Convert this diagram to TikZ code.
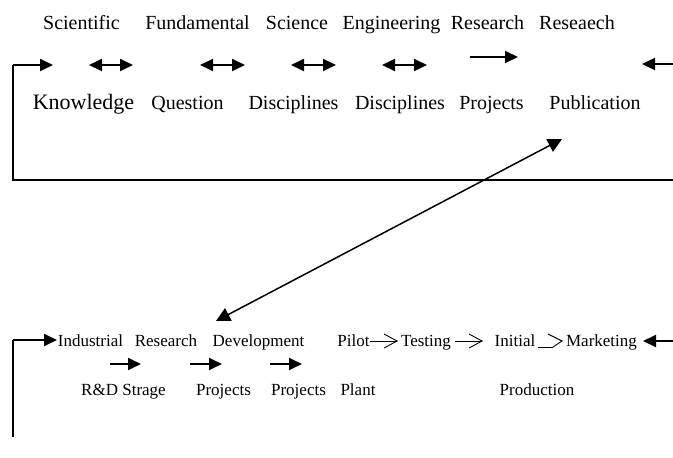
\documentclass[tikz,border=0pt]{standalone}
\usepackage{fontspec}
\setmainfont{Liberation Serif}
\usetikzlibrary{arrows.meta}
\tikzset{
  lbl/.style={anchor=base,inner sep=0pt,font=\fontsize{20}{24}\selectfont},
  biglbl/.style={anchor=base,inner sep=0pt,font=\fontsize{22}{26}\selectfont},
  smalllbl/.style={anchor=base,inner sep=0pt,font=\fontsize{17}{20}\selectfont},
  frame/.style={line width=1.5pt},
  arr/.style={line width=1.8pt,-{Triangle[length=13pt,width=12pt]}},
  dblarr/.style={line width=1.8pt,{Triangle[length=13pt,width=12pt]}-{Triangle[length=13pt,width=12pt]}},
  diag/.style={line width=1.5pt,{Triangle[length=14pt,width=14pt]}-{Triangle[length=14pt,width=14pt]}},
  chev/.style={line width=0.9pt,-{Straight Barb[length=13pt,width=14pt,line width=0.9pt]}}
}
\begin{document}
\begin{tikzpicture}[x=1pt,y=-1pt]
\useasboundingbox (0,0) rectangle (673,458);
% top labels
\node[lbl] (t1) at (81.5,29) {Scientific};
\node[lbl] (t2) at (197.5,29) {Fundamental};
\node[lbl] (t3) at (297,29) {Science};
\node[lbl] (t4) at (391.5,29) {Engineering};
\node[lbl] (t5) at (487.5,29) {Research};
\node[lbl] (t6) at (577,29) {Reseaech};
% second row labels
\node[biglbl] (k1) at (83.5,109) {Knowledge};
\node[lbl] (k2) at (187.5,109) {Question};
\node[lbl] (k3) at (293.5,109) {Disciplines};
\node[lbl] (k4) at (400,109) {Disciplines};
\node[lbl] (k5) at (491.5,109) {Projects};
\node[lbl] (k6) at (595,109) {Publication};
% upper arrows
\coordinate (ub) at (13,180);
\coordinate (uc) at (13,65);
\coordinate (ua) at (53,65);
\coordinate (ur) at (673,180);
\draw[frame] (ur) -- (ub) -- (uc);
\draw[arr] (uc) -- (ua);
\coordinate (d1a) at (89,65); \coordinate (d1b) at (133,65);
\coordinate (d2a) at (200,65); \coordinate (d2b) at (245,65);
\coordinate (d3a) at (291,65); \coordinate (d3b) at (336,65);
\coordinate (d4a) at (382,65); \coordinate (d4b) at (427,65);
\draw[dblarr] (d1a) -- (d1b);
\draw[dblarr] (d2a) -- (d2b);
\draw[dblarr] (d3a) -- (d3b);
\draw[dblarr] (d4a) -- (d4b);
\coordinate (pa) at (470,57); \coordinate (pb) at (518,57);
\draw[arr] (pa) -- (pb);
\coordinate (ra) at (673,64); \coordinate (rb) at (642,64);
\draw[arr] (ra) -- (rb);
% diagonal
\coordinate (dg1) at (562,139);
\coordinate (dg2) at (216,321);
\draw[diag] (dg2) -- (dg1);
% bottom row
\node[smalllbl] (b1) at (90.5,346) {Industrial};
\node[smalllbl] (b2) at (166,346) {Research};
\node[smalllbl] (b3) at (258.5,346) {Development};
\node[smalllbl] (b4) at (353.5,346) {Pilot};
\node[smalllbl] (b5) at (426,346) {Testing};
\node[smalllbl] (b6) at (515,346) {Initial};
\node[smalllbl] (b7) at (601.5,346) {Marketing};
\node[smalllbl] (c1) at (123.5,395) {R\&D Strage};
\node[smalllbl] (c2) at (223.5,395) {Projects};
\node[smalllbl] (c3) at (298.5,395) {Projects};
\node[smalllbl] (c4) at (358,395) {Plant};
\node[smalllbl] (c5) at (537,395) {Production};
% bottom frame
\coordinate (lb) at (13,437);
\coordinate (lc) at (13,340);
\coordinate (la) at (57,340);
\draw[frame] (lb) -- (lc);
\draw[arr] (lc) -- (la);
\coordinate (s1a) at (110,364); \coordinate (s1b) at (141,364);
\coordinate (s2a) at (190,364); \coordinate (s2b) at (222,364);
\coordinate (s3a) at (270,364); \coordinate (s3b) at (302,364);
\draw[arr] (s1a) -- (s1b);
\draw[arr] (s2a) -- (s2b);
\draw[arr] (s3a) -- (s3b);
% chevron arrows
\coordinate (h1a) at (370,341); \coordinate (h1b) at (398,341);
\coordinate (h2a) at (455,341); \coordinate (h2b) at (483,341);
\draw[chev] (h1a) -- (h1b);
\draw[chev] (h2a) -- (h2b);
\coordinate (h3a) at (538,347); \coordinate (h3b) at (553,347);
\coordinate (h3c) at (548,334); \coordinate (h3d) at (562,341);
\draw[line width=0.9pt] (h3a) -- (h3b);
\draw[line width=0.9pt] (h3c) -- (h3d) -- (h3b);
\coordinate (ma) at (673,341); \coordinate (mb) at (643,341);
\draw[arr] (ma) -- (mb);
\end{tikzpicture}
\end{document}
